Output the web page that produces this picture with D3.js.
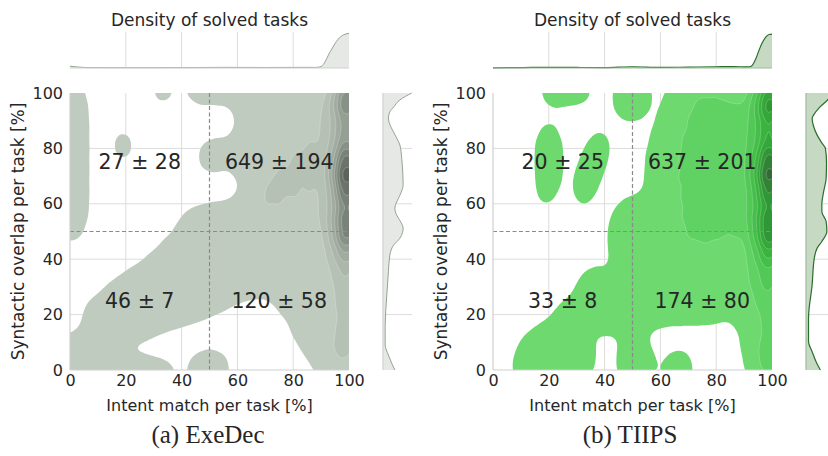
<!DOCTYPE html>
<html>
<head>
<meta charset="utf-8">
<script src="https://cdn.jsdelivr.net/npm/d3@7"></script>
<style>
  body { margin: 0; background: #fff; }
  svg { display: block; }
  text { font-family: "DejaVu Sans", sans-serif; fill: #262626; }
</style>
</head>
<body>
<svg id="chart" width="828" height="456"></svg>
<script>
// ---- data -------------------------------------------------------------
const pctTicks = [0, 20, 40, 60, 80, 100];
const intentLabel = "Intent match per task [%]";
const overlapLabel = "Syntactic overlap per task [%]";
const marginalTitle = "Density of solved tasks";

// solved tasks grouped as [intent match %, syntactic overlap %, number of tasks]
const exedecTasks = [
  // left edge, high overlap
  [0, 100, 3], [0, 92, 5], [0, 84, 5], [0, 76, 5], [0, 68, 5], [0, 60, 5], [0, 53, 3.2],
  // isolated tasks in the upper-left quadrant
  [18, 100.5, 1.9], [33, 101, 2.4], [19, 81, 2.5], [33, 67, 1.65],
  // top edge and the tongue at ~50 % intent
  [44, 101, 1.8], [50, 101, 1.8], [56, 101, 1.8], [62, 100, 2.5], [66, 95, 3],
  [49, 77, 2.2], [55, 78, 2.2], [62, 79, 2.5],
  // upper-right field
  [67, 58, 4], [68, 66, 4], [66, 74, 4], [66, 81, 4], [67, 88, 3],
  [72, 53, 5], [72, 62, 8], [72, 67, 5], [72, 74, 4], [72, 81, 4], [72, 88, 4], [72, 95, 4], [72, 100, 3],
  [78, 53, 4], [78, 60, 5], [78, 68, 8], [78, 74, 5], [78, 81, 4], [78, 88, 4], [78, 95, 4], [78, 100, 4],
  [83, 53, 4], [83, 60, 4], [83, 67, 4], [83, 74, 6], [83, 81, 4], [83, 88, 4], [83, 95, 4], [83, 100, 4],
  [60, 52, 4], [64, 55, 4], [60, 45, 4], [56, 47, 3], [66, 50, 6],
  // near full intent match
  [88, 95, 8], [88, 85, 8], [88, 75, 10], [88, 65, 8], [88, 55, 8], [88, 45, 6],
  [88, 35, 5], [90, 24, 4], [92, 14, 3], [93, 6, 3], [86, 18, 2],
  [95, 97, 12], [95, 85, 14], [95, 72, 18], [95, 60, 14], [95, 50, 14],
  [95, 38, 10], [95, 25, 7], [95, 12, 6], [95, 3, 5],
  [100, 99, 60], [100, 91, 25], [100, 82, 35], [100, 74, 55], [100, 67, 60],
  [100, 59, 30], [100, 51, 55], [100, 44, 25], [100, 36, 15], [100, 28, 12],
  [100, 20, 10], [100, 12, 10], [100, 4, 10],
  // diagonal band, low intent / low overlap
  [1, 3, 10], [8, 2, 3], [15, 1, 2.5], [22, 0, 2.2], [29, 0, 2], [36, -1, 1.8],
  [9, 13, 3], [16, 16, 3], [24, 18, 3], [31, 20, 3], [38, 22, 3], [45, 24, 3], [52, 27, 3], [58, 31, 3],
  [20, 22, 2], [27, 25, 2], [34, 28, 2], [41, 32, 2], [47, 36, 2], [53, 40, 2],
  [10, 20, 3], [17, 26, 3], [24, 31, 3], [31, 36, 3], [37, 42, 3], [43, 48, 3], [46, 52, 3], [53, 55, 2.5],
  [47, 0, 3], [53, 0, 3],
  // lower-right field
  [64, 33, 3], [71, 33, 3], [78, 31, 3], [66, 40, 3], [73, 40, 3], [80, 39, 3],
  [67, 47, 3], [74, 47, 3], [81, 46, 3], [79, 25, 2.5], [84, 17, 2.5], [87, 9, 2]
];

const tiipsTasks = [
  // isolated tasks in the upper-left quadrant
  [19.5, 101, 2], [26, 100.5, 2], [33, 101, 2],
  [47, 99, 2.5], [50, 96, 2], [53, 100, 2.2],
  [20, 84, 2], [20, 78, 2], [20, 72, 1.8], [19.5, 66, 1.3], [18.5, 61, 1.0],
  [32, 62, 1.4], [33.5, 68, 1.6], [35, 73, 1.6], [37, 78, 1.6], [39, 83, 1.4],
  // left edge of the main mass
  [67, 98, 3], [65, 90, 3], [61, 82, 3], [60, 74, 3], [60, 67, 3], [56, 57, 3],
  [50, 54, 3], [47, 47, 3], [50, 50, 10], [49, 42, 3], [51, 36, 3],
  // diagonal band
  [40, 30, 2.5], [34, 26, 2.5], [27, 20, 2.5], [20, 12, 2.5], [14, 6, 2.5], [11, 0, 2.5],
  [34.5, 33, 1.2],
  [18, 3, 8], [25, 5, 3], [31, 8, 2.5], [33, 2, 2], [26, 12, 2],
  [38, 19, 2.5], [45, 19, 2.5], [52, 20, 2.5], [58, 22, 2.5], [64, 23, 2.5], [70, 23, 2.5], [76, 23, 2.5], [82, 24, 2.5],
  [45, 28, 2.5], [52, 29, 2.5], [58, 30, 2.5], [64, 31, 3], [70, 31, 3], [76, 31, 3], [82, 32, 3],
  [56, 38, 3], [62, 38, 3], [68, 38, 4], [74, 38, 4], [80, 38, 5],
  [56, 45, 3], [62, 45, 4], [68, 45, 5], [74, 45, 6], [80, 45, 6],
  // bottom edge
  [48, 2, 2.5], [54, 2, 2.5], [51, 7, 1.5], [66.5, 0, 4.2],
  [93, 20, 3], [94, 12, 3], [95, 5, 3],
  // upper-right field
  [66, 52, 6], [66, 59, 6], [66, 66, 7], [66, 73, 6], [67, 80, 6], [69, 87, 5], [71, 94, 5], [72, 100, 5],
  [72, 52, 7], [72, 59, 7], [72, 66, 6], [72, 73, 7], [72, 80, 8], [74, 87, 7], [76, 94, 6], [77, 100, 6],
  [78, 52, 7], [78, 59, 8], [78, 66, 7], [78, 73, 8], [78, 80, 8], [80, 87, 8], [82, 94, 7], [83, 100, 6],
  [84, 52, 8], [84, 59, 8], [84, 66, 8], [84, 73, 7], [84, 80, 8], [86, 87, 8],
  // near full intent match
  [89, 95, 9], [89, 85, 9], [89, 75, 11], [89, 65, 9], [89, 55, 9], [89, 45, 7],
  [89, 35, 6], [89, 27, 4],
  [95, 97, 14], [95, 85, 16], [95, 72, 20], [95, 60, 16], [95, 50, 16],
  [95, 38, 11], [95, 27, 8],
  [100, 98, 65], [100, 90, 25], [100, 82, 35], [100, 74, 55], [100, 67, 55],
  [100, 59, 30], [100, 51, 55], [100, 44, 30], [100, 36, 18], [100, 28, 14],
  [100, 20, 12], [100, 12, 12], [100, 3, 25]
];

// quadrant summaries: upper-left, upper-right, lower-left, lower-right
const exedecQuadrants = ["27 ± 28", "649 ± 194", "46 ± 7", "120 ± 58"];
const tiipsQuadrants = ["20 ± 25", "637 ± 201", "33 ± 8", "174 ± 80"];

// marginal densities, scaled to the marginal axis (0..1)
const exedecIntentDensity = [
  [0, 0.05], [3, 0.025], [8, 0.01], [20, 0.008], [40, 0.01], [55, 0.018],
  [70, 0.014], [85, 0.018], [88, 0.015], [90, 0.04], [91, 0.12], [92, 0.26],
  [93, 0.42], [94, 0.55], [95, 0.68], [96, 0.79], [97, 0.87], [98, 0.92],
  [99, 0.95], [100, 0.96]
];
const tiipsIntentDensity = [
  [0, 0.005], [10, 0.01], [20, 0.02], [30, 0.015], [40, 0.012], [50, 0.035],
  [60, 0.015], [70, 0.025], [80, 0.035], [86, 0.04], [91, 0.03], [92, 0.035],
  [93, 0.08], [94, 0.22], [95, 0.42], [96, 0.62], [97, 0.77], [98, 0.88],
  [99, 0.93], [100, 0.94]
];
const exedecOverlapDensity = [
  [0, 0.33], [2.5, 0.24], [5.4, 0.15], [9, 0.06], [16, 0.06], [26, 0.1],
  [35.5, 0.15], [41.5, 0.19], [45, 0.29], [47.6, 0.47], [49.5, 0.54],
  [51.2, 0.56], [54.8, 0.43], [56.5, 0.36], [58.4, 0.33], [62, 0.43],
  [64, 0.5], [67, 0.56], [71, 0.55], [76.4, 0.52], [81.2, 0.47], [83.5, 0.39],
  [86, 0.29], [88, 0.21], [91, 0.15], [93.2, 0.19], [95, 0.3], [97.5, 0.47],
  [100, 0.8]
];
const tiipsOverlapDensity = [
  [0, 0.4], [3, 0.28], [6.6, 0.17], [10.2, 0.07], [18.7, 0.07], [30.7, 0.17],
  [40.3, 0.23], [44, 0.31], [46.4, 0.44], [50, 0.58], [53.6, 0.56],
  [57.2, 0.44], [60, 0.44], [64.4, 0.49], [69.2, 0.56], [75, 0.57],
  [80, 0.54], [82, 0.44], [84.8, 0.31], [88, 0.21], [90.9, 0.17], [92, 0.21],
  [95, 0.39], [97.5, 0.6], [100, 0.75]
];

// contour levels in tasks per kernel area
const exedecLevels = [1.6, 16, 26, 36, 46, 56, 66, 76, 88, 100];
const tiipsLevels = [1.6, 16, 26, 36, 46, 56, 66, 76, 88, 100];

// ---- drawing ----------------------------------------------------------
const svg = d3.select("#chart");
const W = 279, H = 277, TOP = 93;
const MARG_TOP = 32, MARG_H = 36, MARG_GAP = 34, MARG_W = 36;
const SIGMA_X = 10, SIGMA_Y = 14, PAD = 45;
const K = SIGMA_X / SIGMA_Y;   // vertical squeeze giving an elliptical kernel

function drawPanel(cfg) {
  const x = d3.scaleLinear().domain([0, 100]).range([0, W]);
  const y = d3.scaleLinear().domain([0, 100]).range([H, 0]);
  const id = cfg.id;

  const defs = svg.append("defs");
  defs.append("clipPath").attr("id", id + "-main")
    .append("rect").attr("width", W).attr("height", H);

  const g = svg.append("g").attr("transform", `translate(${cfg.left},${TOP})`);

  // grid
  g.append("g").selectAll("line").data(pctTicks.slice(1, -1)).join("line")
    .attr("x1", d => x(d)).attr("x2", d => x(d)).attr("y1", 0).attr("y2", H)
    .attr("stroke", "#dcdcdc").attr("stroke-width", 1);
  g.append("g").selectAll("line").data(pctTicks.slice(1, -1)).join("line")
    .attr("y1", d => y(d)).attr("y2", d => y(d)).attr("x1", 0).attr("x2", W)
    .attr("stroke", "#dcdcdc").attr("stroke-width", 1);

  // kernel density contours (computed in a vertically squeezed frame)
  const unit = 1 / (2 * Math.PI * SIGMA_X * SIGMA_X);
  const contours = d3.contourDensity()
    .x(d => x(d[0]) + PAD)
    .y(d => (y(d[1]) + PAD) * K)
    .weight(d => d[2])
    .size([W + 2 * PAD, Math.ceil((H + 2 * PAD) * K)])
    .cellSize(2)
    .bandwidth(SIGMA_X)
    .thresholds(cfg.levels.map(v => v * unit))(cfg.tasks);

  const unsqueeze = d3.geoTransform({
    point(px, py) { this.stream.point(px - PAD, py / K - PAD); }
  });
  const color = i => cfg.palette(i / (cfg.levels.length - 1));
  const cg = g.append("g").attr("clip-path", `url(#${id}-main)`);
  cg.selectAll("path").data(contours).join("path")
    .attr("d", d3.geoPath(unsqueeze))
    .attr("fill", (d, i) => color(i))
    .attr("stroke", (d, i) => i === 0 ? "none" : "#ffffff")
    .attr("stroke-opacity", 0.35)
    .attr("stroke-width", 0.6);

  // reference lines at 50 %
  g.append("line").attr("x1", x(50)).attr("x2", x(50)).attr("y1", 0).attr("y2", H)
    .attr("stroke", "#8a8a8a").attr("stroke-width", 1.2).attr("stroke-dasharray", "4,2.5");
  g.append("line").attr("y1", y(50)).attr("y2", y(50)).attr("x1", 0).attr("x2", W)
    .attr("stroke", "#8a8a8a").attr("stroke-width", 1.2).attr("stroke-dasharray", "4,2.5");

  // spines
  g.append("line").attr("x1", 0).attr("x2", 0).attr("y1", 0).attr("y2", H)
    .attr("stroke", "#cfcfcf").attr("stroke-width", 1.2);
  g.append("line").attr("x1", 0).attr("x2", W).attr("y1", H).attr("y2", H)
    .attr("stroke", "#cfcfcf").attr("stroke-width", 1.2);

  // quadrant summaries
  const centres = [[25, 75], [75, 75], [25, 25], [75, 25]];
  g.append("g").selectAll("text").data(cfg.quadrants).join("text")
    .attr("x", (d, i) => x(centres[i][0]))
    .attr("y", (d, i) => y(centres[i][1]))
    .attr("text-anchor", "middle").attr("dominant-baseline", "central")
    .style("font-size", "20.5px").text(d => d);

  // axes
  const ax = g.append("g").attr("transform", `translate(0,${H})`)
    .call(d3.axisBottom(x).tickValues(pctTicks).tickSize(0).tickPadding(5));
  const ay = g.append("g")
    .call(d3.axisLeft(y).tickValues(pctTicks).tickSize(0).tickPadding(7));
  [ax, ay].forEach(a => {
    a.select(".domain").remove();
    a.selectAll("text").style("font-size", "16px").attr("fill", "#262626")
      .style("font-family", "DejaVu Sans");
  });
  g.append("text").attr("x", W / 2).attr("y", H + 41).attr("text-anchor", "middle")
    .style("font-size", "16px").text(intentLabel);
  g.append("text").attr("transform", `translate(${-46},${H / 2}) rotate(-90)`)
    .attr("text-anchor", "middle").style("font-size", "17px").text(overlapLabel);

  // top marginal: intent match
  const mt = svg.append("g").attr("transform", `translate(${cfg.left},${MARG_TOP})`);
  const dTop = d3.scaleLinear().domain([0, 1]).range([MARG_H, 0]);
  mt.append("g").selectAll("line").data(pctTicks.slice(1, -1)).join("line")
    .attr("x1", d => x(d)).attr("x2", d => x(d)).attr("y1", 0).attr("y2", MARG_H)
    .attr("stroke", "#dcdcdc");
  mt.append("path").datum(cfg.intentDensity)
    .attr("d", d3.area().x(d => x(d[0])).y0(MARG_H).y1(d => dTop(d[1])).curve(d3.curveMonotoneX))
    .attr("fill", cfg.margFill);
  mt.append("path").datum(cfg.intentDensity)
    .attr("d", d3.line().x(d => x(d[0])).y(d => dTop(d[1])).curve(d3.curveMonotoneX))
    .attr("fill", "none").attr("stroke", cfg.margLine).attr("stroke-width", cfg.margLineW);
  mt.append("line").attr("x1", 0).attr("x2", W).attr("y1", MARG_H).attr("y2", MARG_H)
    .attr("stroke", cfg.margSpine).attr("stroke-width", 1.2);
  mt.append("text").attr("x", W / 2).attr("y", -6).attr("text-anchor", "middle")
    .style("font-size", "17px").text(marginalTitle);

  // right marginal: syntactic overlap
  const mx0 = cfg.left + W + MARG_GAP;
  defs.append("clipPath").attr("id", id + "-side")
    .append("rect").attr("x", -2).attr("y", -2).attr("width", cfg.clipRight - mx0 + 2).attr("height", H + 4);
  const mr = svg.append("g").attr("transform", `translate(${mx0},${TOP})`)
    .append("g").attr("clip-path", `url(#${id}-side)`);
  const dSide = d3.scaleLinear().domain([0, 1]).range([0, MARG_W]);
  mr.append("g").selectAll("line").data(pctTicks.slice(1, -1)).join("line")
    .attr("y1", d => y(d)).attr("y2", d => y(d)).attr("x1", 0).attr("x2", MARG_W)
    .attr("stroke", "#dcdcdc");
  mr.append("path").datum(cfg.overlapDensity)
    .attr("d", d3.area().y(d => y(d[0])).x0(0).x1(d => dSide(d[1])).curve(d3.curveMonotoneY))
    .attr("fill", cfg.margFill);
  mr.append("path").datum(cfg.overlapDensity)
    .attr("d", d3.line().y(d => y(d[0])).x(d => dSide(d[1])).curve(d3.curveMonotoneY))
    .attr("fill", "none").attr("stroke", cfg.margLine).attr("stroke-width", cfg.margLineW);
  mr.append("line").attr("x1", 0).attr("x2", 0).attr("y1", 0).attr("y2", H)
    .attr("stroke", cfg.margSpine).attr("stroke-width", 1.2);

  // caption
  svg.append("text")
    .attr("x", cfg.captionX).attr("y", 443).attr("text-anchor", "middle")
    .style("font-size", "25px").style("font-family", "'Liberation Serif', serif")
    .text(cfg.caption);
}

drawPanel({
  id: "exedec", left: 70, clipRight: 412, captionX: 208,
  tasks: exedecTasks, levels: exedecLevels, quadrants: exedecQuadrants,
  palette: d3.interpolateRgbBasis(["#c0cbbf", "#aab5a9", "#8f998e", "#6f776e", "#4c534b"]),
  intentDensity: exedecIntentDensity, overlapDensity: exedecOverlapDensity,
  margFill: "#e5e8e4", margLine: "#95a393", margLineW: 1, margSpine: "#cdd3cc",
  caption: "(a) ExeDec"
});
drawPanel({
  id: "tiips", left: 493, clipRight: 828, captionX: 630,
  tasks: tiipsTasks, levels: tiipsLevels, quadrants: tiipsQuadrants,
  palette: d3.interpolateRgbBasis(["#6dd96f", "#4fc653", "#31b037", "#2f8d34", "#3a4d3c"]),
  intentDensity: tiipsIntentDensity, overlapDensity: tiipsOverlapDensity,
  margFill: "#c5d9c3", margLine: "#2a6e2c", margLineW: 1.2, margSpine: "#a3b9a1",
  caption: "(b) TIIPS"
});
</script>
</body>
</html>
